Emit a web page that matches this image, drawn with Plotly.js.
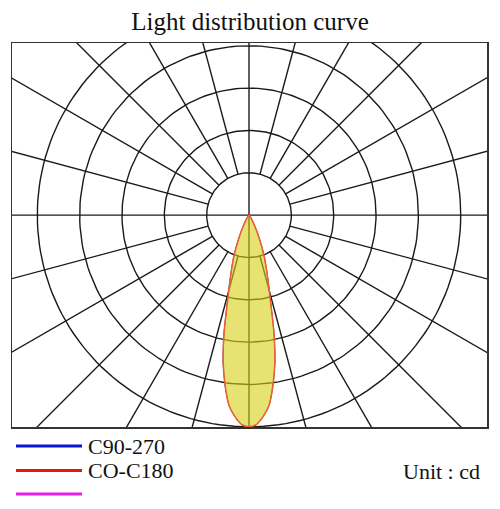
<!DOCTYPE html>
<html>
<head>
<meta charset="utf-8">
<script src="https://cdn.plot.ly/plotly-3.0.1.min.js"></script>
<style>html,body{margin:0;padding:0;background:#fff;}#chart{width:500px;height:509px;}</style>
</head>
<body>
<div id="chart"></div>
<script>
// ---- data (intensity in cd, angle from nadir in degrees) ----
const angles = [0, 2, 4, 6, 8, 10, 12, 14, 16, 18, 20, 22, 25, 30, 35, 40, 50, 60, 90];
const c0c180 = [500, 495, 477, 452, 406, 352, 283, 210, 165, 132, 106, 80, 49, 19, 8, 3, 1, 0, 0];
const c90c270 = [500, 495, 477, 452, 406, 352, 283, 210, 165, 132, 106, 80, 49, 19, 8, 3, 1, 0, 0];
const ringValues = [100, 200, 300, 400, 500];
const spokeAngles = [15, 30, 45, 60, 75, 105, 120, 135, 150, 165, 195, 210, 225, 240, 255, 285, 300, 315, 330, 345];
const axisAngles = [0, 90];
const legendNames = ['C90-270', 'CO-C180', ''];
const legendColors = ['#0a14d8', '#e81414', '#e61ee6'];
const unitLabel = 'Unit : cd';
const titleText = 'Light distribution curve';

const rad = d => d * Math.PI / 180;
const gridColor = '#1a1a1a';
const gridWidth = 1.4;
const traces = [];

// rings
ringValues.forEach(r => {
  const xs = [], ys = [];
  for (let a = 0; a <= 360; a += 2) { xs.push(r * Math.cos(rad(a))); ys.push(r * Math.sin(rad(a))); }
  traces.push({x: xs, y: ys, mode: 'lines', line: {color: gridColor, width: gridWidth}, hoverinfo: 'skip', showlegend: false});
});
// spokes from inner ring outward
spokeAngles.forEach(a => {
  const r0 = ringValues[0], r1 = 1000;
  traces.push({x: [r0 * Math.cos(rad(a)), r1 * Math.cos(rad(a))], y: [r0 * Math.sin(rad(a)), r1 * Math.sin(rad(a))],
    mode: 'lines', line: {color: gridColor, width: gridWidth}, hoverinfo: 'skip', showlegend: false});
});
// full axis lines through the centre
axisAngles.forEach(a => {
  traces.push({x: [-1000 * Math.cos(rad(a)), 1000 * Math.cos(rad(a))], y: [-1000 * Math.sin(rad(a)), 1000 * Math.sin(rad(a))],
    mode: 'lines', line: {color: gridColor, width: gridWidth}, hoverinfo: 'skip', showlegend: false});
});

function curve(vals) {
  const xs = [], ys = [];
  for (let i = angles.length - 1; i >= 0; i--) { xs.push(-vals[i] * Math.sin(rad(angles[i]))); ys.push(-vals[i] * Math.cos(rad(angles[i]))); }
  for (let i = 1; i < angles.length; i++) { xs.push(vals[i] * Math.sin(rad(angles[i]))); ys.push(-vals[i] * Math.cos(rad(angles[i]))); }
  return {xs, ys};
}
const cb = curve(c90c270);
traces.push({x: cb.xs, y: cb.ys, mode: 'lines', name: 'C90-270', line: {color: legendColors[0], width: 1, shape: 'spline', smoothing: 0.6}, hoverinfo: 'skip', showlegend: false});
const cr = curve(c0c180);
traces.push({x: cr.xs, y: cr.ys, mode: 'lines', name: 'CO-C180', fill: 'toself', fillcolor: 'rgba(215,208,20,0.6)',
  line: {color: 'rgb(236,96,52)', width: 1.5, shape: 'spline', smoothing: 0.6}, hoverinfo: 'skip', showlegend: false});

// plot area in pixels
const W = 500, H = 509, L = 12, R = 13, T = 43, B = 82;
const pw = W - L - R, ph = H - T - B;
const px2x = p => (p - L) / pw;
const px2y = p => (H - B - p) / ph;

const legendY = [446, 470.5, 494];
const shapes = [], annotations = [];
legendNames.forEach((n, i) => {
  shapes.push({type: 'line', xref: 'paper', yref: 'paper', x0: px2x(16), x1: px2x(82), y0: px2y(legendY[i]), y1: px2y(legendY[i]),
    line: {color: legendColors[i], width: 3}});
  if (n) annotations.push({xref: 'paper', yref: 'paper', x: px2x(86), y: px2y(legendY[i]), xanchor: 'left', yanchor: 'middle',
    text: n, showarrow: false, font: {family: 'Liberation Serif', size: 22, color: '#111'}});
});
annotations.push({xref: 'paper', yref: 'paper', x: px2x(482), y: px2y(471), xanchor: 'right', yanchor: 'middle',
  text: unitLabel, showarrow: false, font: {family: 'Liberation Serif', size: 22, color: '#111'}});

const layout = {
  width: W, height: H,
  margin: {l: L, r: R, t: T, b: B, pad: 0},
  paper_bgcolor: '#fff', plot_bgcolor: '#fff',
  title: {text: titleText, font: {family: 'Liberation Serif', size: 25, color: '#111'}, x: 0.5, xanchor: 'center', y: 1 - 21 / H, yanchor: 'middle', yref: 'container'},
  xaxis: {range: [-559.8, 562.1], showgrid: false, zeroline: false, showticklabels: false, ticks: '', showline: true, mirror: true, linecolor: '#333', linewidth: 1.5, fixedrange: true},
  yaxis: {range: [-500.5, 406.5], showgrid: false, zeroline: false, showticklabels: false, ticks: '', showline: true, mirror: true, linecolor: '#333', linewidth: 1.5, fixedrange: true},
  showlegend: false,
  shapes: shapes,
  annotations: annotations
};
Plotly.newPlot('chart', traces, layout, {displayModeBar: false, staticPlot: true});
</script>
</body>
</html>
